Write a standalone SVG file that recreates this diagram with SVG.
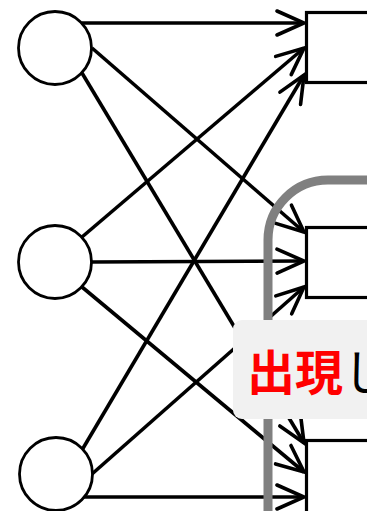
<svg xmlns="http://www.w3.org/2000/svg" width="367" height="511" viewBox="0 0 367 511">
  <defs>
    <marker id="arr" markerUnits="userSpaceOnUse" markerWidth="40" markerHeight="40" viewBox="-32 -20 40 40" refX="0" refY="0" orient="auto">
      <path d="M -27 -12 L 0 0 L -27 12" fill="none" stroke="#000" stroke-width="3.6" stroke-linecap="round" stroke-linejoin="miter"/>
    </marker>
  </defs>
  <style>
    .edge { stroke: #000; stroke-width: 3.6; fill: none; marker-end: url(#arr); }
    .node circle { fill: #fff; stroke: #000; stroke-width: 2.8; }
    .box rect { fill: #fff; stroke: #000; stroke-width: 3.2; }
    .hl { fill: #f1f1f1; }
    .lbl { font-family: "Noto Sans CJK JP", "Noto Sans CJK SC", sans-serif; font-size: 48px; }
  </style>
  <rect width="367" height="511" fill="#fff"/>
  <g id="connectors">
    <line class="edge" x1="82" y1="23" x2="304" y2="23"/>
    <line class="edge" x1="92" y1="48" x2="304" y2="232"/>
    <line class="edge" x1="82" y1="73" x2="304" y2="443"/>
    <line class="edge" x1="82" y1="237" x2="304" y2="48"/>
    <line class="edge" x1="92" y1="262" x2="304" y2="261"/>
    <line class="edge" x1="82" y1="287" x2="304" y2="472"/>
    <line class="edge" x1="82" y1="450" x2="304" y2="75"/>
    <line class="edge" x1="92" y1="474" x2="304" y2="287"/>
    <line class="edge" x1="82" y1="497" x2="304" y2="497"/>
  </g>
  <g id="in1" class="node"><circle cx="55" cy="48" r="36.5"/></g>
  <g id="in2" class="node"><circle cx="55" cy="262" r="36.5"/></g>
  <g id="in3" class="node"><circle cx="56" cy="474" r="36.5"/></g>
  <g id="out1" class="box"><rect x="306.5" y="12.5" width="80" height="70"/></g>
  <g id="out2" class="box"><rect x="306.5" y="227.5" width="80" height="70"/></g>
  <g id="out3" class="box"><rect x="306.5" y="440.5" width="80" height="90"/></g>
  <g id="group">
    <path d="M 268 530 L 268 240 A 60 60 0 0 1 328 180 L 380 180" fill="none" stroke="#808080" stroke-width="9"/>
  </g>
  <g id="label">
    <rect class="hl" x="233" y="320" width="150" height="99" rx="9"/>
    <text class="lbl" x="247" y="390"><tspan fill="#ff0000" font-weight="bold">出現</tspan><tspan fill="#000">し</tspan></text>
  </g>
</svg>
